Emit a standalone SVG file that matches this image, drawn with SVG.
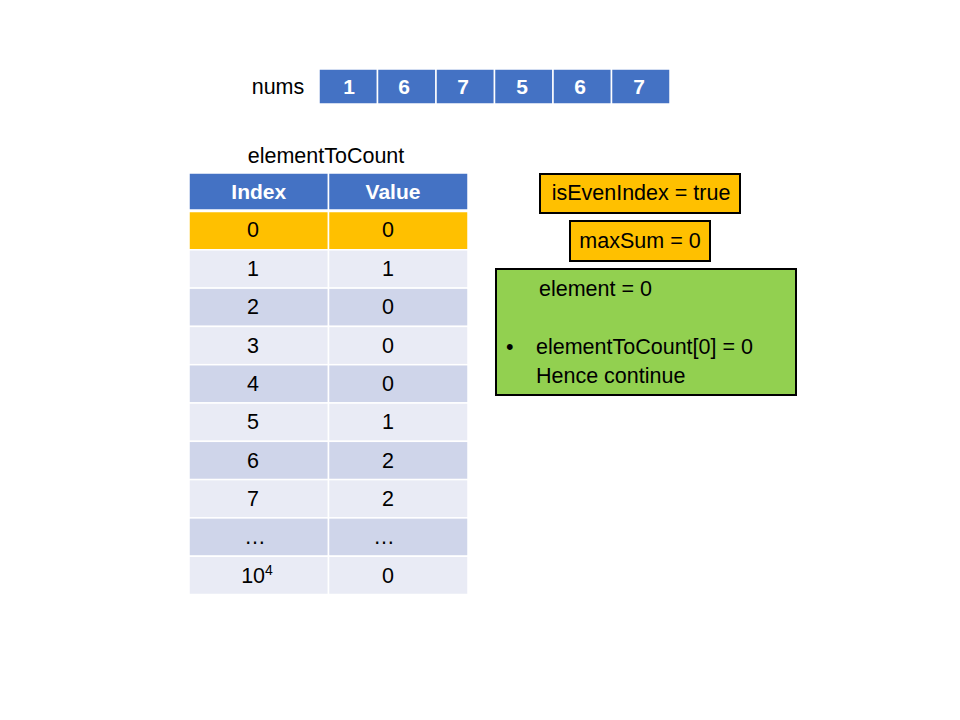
<svg xmlns="http://www.w3.org/2000/svg" width="960" height="720" viewBox="0 0 960 720">
  <style>
    text { font-family: "Liberation Sans", Arial, sans-serif; font-size: 21.5px; fill: #000; }
    .c { text-anchor: middle; }
    .hdr { fill: #fff; font-weight: bold; font-size: 21px; }
    .cell { stroke: #fff; stroke-width: 1.5; }
    .blue { fill: #4472C4; }
    .yel { fill: #FFC000; }
    .lt { fill: #E9EBF5; }
    .dk { fill: #CFD5EA; }
    .box { stroke: #000; stroke-width: 2; }
  </style>
  <rect width="960" height="720" fill="#fff"/>

  <!-- input array -->
  <g id="nums">
    <text x="278" y="94" class="c">nums</text>
    <rect class="cell blue" x="319" y="69" width="58.5" height="35"/>
    <rect class="cell blue" x="377.5" y="69" width="58.5" height="35"/>
    <rect class="cell blue" x="436" y="69" width="58.5" height="35"/>
    <rect class="cell blue" x="494.5" y="69" width="58.5" height="35"/>
    <rect class="cell blue" x="553" y="69" width="58.5" height="35"/>
    <rect class="cell blue" x="611.5" y="69" width="58.5" height="35"/>
    <text class="c hdr" x="349" y="94">1</text>
    <text class="c hdr" x="404" y="94">6</text>
    <text class="c hdr" x="463" y="94">7</text>
    <text class="c hdr" x="522" y="94">5</text>
    <text class="c hdr" x="580" y="94">6</text>
    <text class="c hdr" x="639" y="94">7</text>
  </g>

  <!-- count table -->
  <g id="elementToCount">
    <text x="326" y="163" class="c">elementToCount</text>
    <rect class="cell blue" x="189" y="173" width="139.5" height="37"/>
    <rect class="cell blue" x="328.5" y="173" width="139.5" height="37"/>
    <text class="c hdr" x="258.8" y="199">Index</text>
    <text class="c hdr" x="393" y="199">Value</text>

    <rect class="cell yel" x="189" y="211.5" width="139.5" height="38.3"/>
    <rect class="cell yel" x="328.5" y="211.5" width="139.5" height="38.3"/>
    <rect class="cell lt" x="189" y="249.8" width="139.5" height="38.3"/>
    <rect class="cell lt" x="328.5" y="249.8" width="139.5" height="38.3"/>
    <rect class="cell dk" x="189" y="288.1" width="139.5" height="38.3"/>
    <rect class="cell dk" x="328.5" y="288.1" width="139.5" height="38.3"/>
    <rect class="cell lt" x="189" y="326.4" width="139.5" height="38.3"/>
    <rect class="cell lt" x="328.5" y="326.4" width="139.5" height="38.3"/>
    <rect class="cell dk" x="189" y="364.7" width="139.5" height="38.3"/>
    <rect class="cell dk" x="328.5" y="364.7" width="139.5" height="38.3"/>
    <rect class="cell lt" x="189" y="403" width="139.5" height="38.3"/>
    <rect class="cell lt" x="328.5" y="403" width="139.5" height="38.3"/>
    <rect class="cell dk" x="189" y="441.3" width="139.5" height="38.3"/>
    <rect class="cell dk" x="328.5" y="441.3" width="139.5" height="38.3"/>
    <rect class="cell lt" x="189" y="479.6" width="139.5" height="38.3"/>
    <rect class="cell lt" x="328.5" y="479.6" width="139.5" height="38.3"/>
    <rect class="cell dk" x="189" y="517.9" width="139.5" height="38.3"/>
    <rect class="cell dk" x="328.5" y="517.9" width="139.5" height="38.3"/>
    <rect class="cell lt" x="189" y="556.2" width="139.5" height="38.3"/>
    <rect class="cell lt" x="328.5" y="556.2" width="139.5" height="38.3"/>

    <text class="c" x="253" y="237">0</text><text class="c" x="388" y="237">0</text>
    <text class="c" x="253" y="276">1</text><text class="c" x="388" y="276">1</text>
    <text class="c" x="253" y="314">2</text><text class="c" x="388" y="314">0</text>
    <text class="c" x="253" y="353">3</text><text class="c" x="388" y="353">0</text>
    <text class="c" x="253" y="391">4</text><text class="c" x="388" y="391">0</text>
    <text class="c" x="253" y="429">5</text><text class="c" x="388" y="429">1</text>
    <text class="c" x="253" y="468">6</text><text class="c" x="388" y="468">2</text>
    <text class="c" x="253" y="506">7</text><text class="c" x="388" y="506">2</text>
    <text class="c" x="255" y="544">…</text><text class="c" x="384" y="544">…</text>
    <text class="c" x="257" y="583">10<tspan dy="-8" font-size="14">4</tspan></text><text class="c" x="388" y="583">0</text>
  </g>

  <!-- state boxes -->
  <g id="isEvenIndex">
    <rect class="box yel" x="540" y="174" width="200" height="39"/>
    <text class="c" x="641" y="200">isEvenIndex = true</text>
  </g>
  <g id="maxSum">
    <rect class="box yel" x="570" y="221" width="140" height="40"/>
    <text class="c" x="640" y="248">maxSum = 0</text>
  </g>
  <g id="step">
    <rect class="box" fill="#92D050" x="496" y="269" width="300" height="126"/>
    <text x="539" y="296">element = 0</text>
    <text x="506" y="354">•</text>
    <text x="536" y="354">elementToCount[0] = 0</text>
    <text x="536" y="383">Hence continue</text>
  </g>
</svg>
